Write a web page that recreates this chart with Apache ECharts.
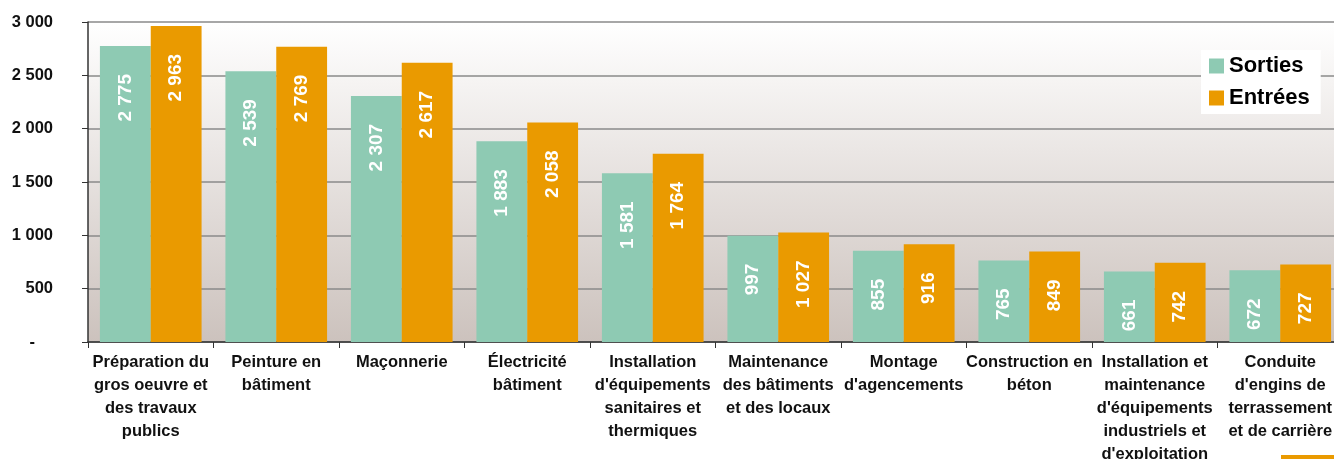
<!DOCTYPE html>
<html>
<head>
<meta charset="utf-8">
<script src="https://cdn.jsdelivr.net/npm/echarts@6/dist/echarts.min.js"></script>
<style>
  html, body { margin: 0; padding: 0; background: #fff; }
  #chart { width: 1334px; height: 459px; }
</style>
</head>
<body>
<div id="chart"></div>
<script>
// categories (line breaks as in the source chart)
const categories = [
  "Préparation du\ngros oeuvre et\ndes travaux\npublics",
  "Peinture en\nbâtiment",
  "Maçonnerie",
  "Électricité\nbâtiment",
  "Installation\nd'équipements\nsanitaires et\nthermiques",
  "Maintenance\ndes bâtiments\net des locaux",
  "Montage\nd'agencements",
  "Construction en\nbéton",
  "Installation et\nmaintenance\nd'équipements\nindustriels et\nd'exploitation",
  "Conduite\nd'engins de\nterrassement\net de carrière"
];
const sorties = [2775, 2539, 2307, 1883, 1581, 997, 855, 765, 661, 672];
const entrees = [2963, 2769, 2617, 2058, 1764, 1027, 916, 849, 742, 727];

const fmt = (v) => String(v).replace(/\B(?=(\d{3})+(?!\d))/g, " ");
const font = "'Liberation Sans', Arial, sans-serif";

const chart = echarts.init(document.getElementById("chart"));

const barLabel = {
  show: true,
  position: "insideTop",
  distance: 28,
  rotate: 90,
  align: "right",
  verticalAlign: "middle",
  color: "#fff",
  fontWeight: "bold",
  fontSize: 19,
  fontFamily: font,
  formatter: (p) => fmt(p.value),
};

chart.setOption({
  animation: false,
  textStyle: { fontFamily: font },
  grid: { left: 88, top: 22, width: 1255, bottom: 117, containLabel: false,
    outerBoundsMode: "none",
    show: true, borderWidth: 0,
    backgroundColor: new echarts.graphic.LinearGradient(0, 0, 0, 1, [
      { offset: 0, color: "#ffffff" },
      { offset: 1, color: "#ccc2bd" },
    ]),
  },
  legend: {
    left: 1201, top: 50,
    orient: "vertical",
    backgroundColor: "#fff",
    padding: [5, 11, 5, 8],
    itemGap: 10,
    itemWidth: 15, itemHeight: 15,
    icon: "rect",
    textStyle: { fontSize: 22, fontWeight: "bold", color: "#000", fontFamily: font },
    data: ["Sorties", "Entrées"],
  },
  xAxis: {
    type: "category",
    data: categories,
    axisLine: { lineStyle: { color: "#333", width: 1.5 } },
    axisTick: { show: true, length: 6, lineStyle: { color: "#333" } },
    axisLabel: {
      interval: 0,
      margin: 9,
      fontSize: 16.5,
      fontWeight: "bold",
      color: "#111",
      lineHeight: 23,
      fontFamily: font,
    },
  },
  yAxis: {
    type: "value",
    min: 0, max: 3000, interval: 500,
    axisLine: { show: true, lineStyle: { color: "#333", width: 1.5 } },
    axisTick: { show: true, length: 6, lineStyle: { color: "#333" } },
    splitLine: { lineStyle: { color: "#8a8a8a", width: 1.5 } },
    axisLabel: {
      margin: 35,
      fontSize: 16.5,
      fontWeight: "bold",
      color: "#111",
      fontFamily: font,
      formatter: (v) => (v === 0 ? "{z|-}" : fmt(v)),
      rich: { z: { fontSize: 16.5, fontWeight: "bold", padding: [0, 18, 0, 0] } },
    },
  },
  series: [
    { name: "Sorties", type: "bar", data: sorties, barGap: "0%", barCategoryGap: "19%",
      itemStyle: { color: "#8ecab3" }, label: barLabel },
    { name: "Entrées", type: "bar", data: entrees, barGap: "0%", barCategoryGap: "19%",
      itemStyle: { color: "#ea9a00" }, label: barLabel },
  ],
  graphic: [
    { type: "rect", right: 0, bottom: 0, shape: { width: 53, height: 4 }, style: { fill: "#ea9a00" } },
  ],
});
</script>
</body>
</html>
